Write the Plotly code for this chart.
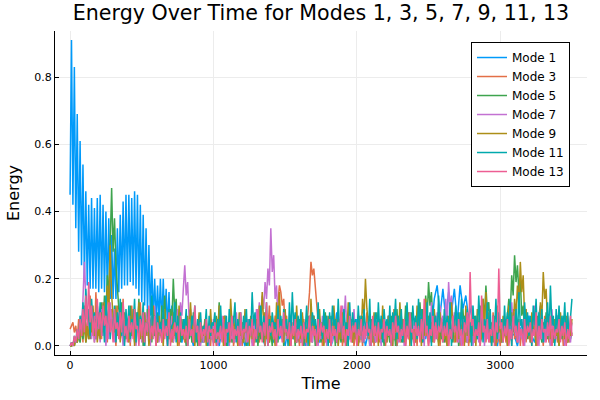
import plotly.graph_objects as go

# Mode 1: step 10 for t = 0..740, then step 20 for t = 760..3500 (energy in hundredths)
mode1_t_fine = list(range(0, 741, 10))
mode1_fine = [45, 91, 42, 83, 35, 69, 28, 61, 24, 54,
              20, 46, 18, 42, 17, 44, 17, 41, 17, 44,
              16, 45, 17, 42, 16, 40, 15, 38, 14, 33,
              14, 29, 14, 35, 16, 39, 17, 43, 18, 45,
              18, 45, 19, 44, 18, 46, 17, 45, 15, 42,
              13, 39, 12, 35, 10, 30, 9, 24, 8, 20,
              7, 18, 7, 20, 6, 20, 5, 17, 5, 16,
              4, 12, 3, 13, 2]
mode1_t_coarse = list(range(760, 3501, 20))
mode1_coarse = [5, 1, 8, 2, 4, 0, 6, 3, 1, 5,
                2, 7, 1, 3, 0, 5, 9, 2, 4, 1,
                6, 2, 3, 0, 4, 8, 1, 5, 2, 3,
                0, 7, 3, 1, 6, 2, 4, 0, 5, 8,
                2, 3, 1, 6, 0, 4, 2, 9, 3, 1,
                5, 2, 7, 0, 3, 10, 2, 4, 1, 6,
                3, 1, 8, 2, 5, 0, 4, 7, 1, 3,
                6, 2, 4, 9, 1, 3, 0, 5, 8, 2,
                4, 7, 1, 6, 3, 10, 2, 8, 4, 14,
                18, 9, 17, 8, 16, 10, 17, 7, 18, 11,
                15, 8, 12, 4, 6, 1, 4, 7, 2, 5,
                3, 0, 6, 2, 8, 1, 4, 3, 0, 5,
                7, 2, 9, 3, 1, 6, 12, 4, 8, 2,
                5, 1, 9, 3, 6, 2, 4, 3]

# Other modes: step 10, t = 0..3500 (energy in hundredths), one row per 200 time units
time_fine = list(range(0, 3501, 10))
mode3 = [5, 6, 7, 4, 6, 2, 8, 3, 9, 1, 12, 4, 7, 2, 15, 5, 9, 1, 16, 6,
         3, 10, 2, 13, 5, 8, 1, 16, 4, 11, 2, 7, 0, 12, 5, 9, 3, 14, 1, 6,
         4, 9, 0, 12, 3, 7, 1, 10, 5, 13, 2, 6, 0, 9, 4, 11, 1, 7, 3, 5,
         0, 8, 2, 5, 1, 10, 3, 6, 0, 7, 4, 9, 1, 5, 2, 8, 0, 6, 3, 4,
         1, 7, 0, 5, 3, 9, 1, 4, 2, 6, 0, 8, 2, 3, 1, 7, 4, 5, 0, 6,
         2, 4, 0, 7, 1, 5, 3, 9, 0, 4, 2, 6, 1, 8, 0, 3, 4, 7, 1, 5,
         0, 6, 2, 4, 1, 8, 3, 5, 0, 7, 2, 10, 1, 4, 3, 6, 0, 9, 5, 12,
         2, 8, 4, 9, 6, 13, 18, 16, 12, 14, 5, 9, 2, 6, 0, 7, 3, 5, 1, 4,
         0, 6, 3, 8, 1, 5, 10, 16, 25, 21, 23, 18, 12, 6, 2, 7, 0, 5, 3, 8,
         1, 4, 0, 7, 3, 5, 1, 9, 2, 6, 0, 4, 3, 8, 1, 5, 2, 7, 0, 3,
         4, 8, 1, 5, 0, 6, 3, 10, 2, 4, 1, 7, 0, 5, 3, 9, 1, 4, 2, 6,
         0, 5, 3, 8, 1, 4, 2, 7, 0, 6, 4, 9, 1, 3, 0, 5, 2, 8, 1, 4,
         3, 6, 0, 9, 2, 5, 1, 7, 3, 4, 0, 8, 2, 6, 1, 5, 3, 10, 0, 4,
         2, 7, 1, 5, 0, 8, 3, 6, 1, 4, 2, 9, 0, 5, 3, 7, 1, 4, 0, 6,
         3, 9, 1, 5, 2, 7, 0, 4, 3, 8, 1, 6, 2, 5, 0, 10, 3, 6, 1, 4,
         0, 7, 2, 5, 1, 9, 3, 6, 0, 11, 2, 4, 1, 8, 0, 5, 3, 7, 1, 6,
         2, 5, 0, 8, 3, 4, 1, 7, 2, 6, 0, 9, 3, 5, 1, 6, 0, 8, 2, 4,
         1, 6, 3, 5, 0, 7, 2, 9, 1, 4, 3]
mode5 = [0, 0, 1, 0, 2, 1, 3, 1, 5, 2, 7, 1, 4, 9, 2, 6, 11, 3, 8, 2,
         10, 4, 13, 6, 15, 9, 21, 14, 33, 47, 28, 38, 24, 18, 11, 9, 13, 5, 10, 3,
         7, 2, 12, 4, 8, 1, 10, 5, 14, 3, 7, 0, 9, 4, 11, 2, 6, 1, 8, 3,
         5, 1, 9, 3, 12, 6, 15, 4, 8, 2, 11, 7, 20, 10, 14, 3, 6, 1, 7, 2,
         4, 0, 8, 2, 5, 1, 10, 3, 6, 0, 9, 2, 4, 1, 7, 3, 5, 0, 8, 2,
         6, 1, 9, 3, 13, 5, 8, 1, 4, 0, 7, 2, 5, 1, 9, 3, 6, 0, 4, 2,
         7, 1, 5, 0, 8, 3, 4, 1, 9, 2, 6, 0, 5, 2, 7, 1, 10, 3, 6, 1,
         4, 0, 7, 2, 5, 1, 9, 3, 6, 0, 8, 2, 4, 1, 7, 3, 5, 0, 6, 2,
         8, 1, 4, 0, 6, 2, 9, 3, 5, 1, 7, 0, 4, 2, 8, 1, 5, 3, 10, 2,
         5, 1, 9, 3, 6, 0, 8, 2, 4, 1, 11, 3, 6, 0, 7, 2, 5, 1, 8, 3,
         4, 0, 7, 2, 9, 1, 5, 3, 6, 0, 8, 2, 4, 1, 10, 3, 6, 1, 5, 0,
         7, 2, 4, 1, 9, 3, 6, 0, 11, 2, 5, 1, 8, 3, 12, 4, 7, 1, 10, 3,
         6, 2, 9, 4, 13, 6, 11, 5, 15, 8, 19, 12, 16, 7, 10, 3, 6, 1, 5, 2,
         7, 1, 4, 0, 8, 2, 5, 1, 9, 3, 6, 0, 7, 2, 11, 3, 5, 1, 8, 2,
         4, 1, 9, 3, 6, 2, 12, 5, 14, 8, 18, 10, 13, 4, 7, 1, 5, 2, 8, 3,
         5, 1, 8, 3, 6, 9, 14, 10, 21, 15, 27, 19, 24, 16, 20, 9, 12, 4, 7, 2,
         6, 1, 9, 3, 5, 0, 8, 2, 4, 1, 7, 3, 10, 2, 6, 0, 5, 1, 8, 3,
         4, 0, 7, 2, 9, 3, 5, 1, 6, 2, 4]
mode7 = [0, 1, 0, 2, 1, 4, 2, 6, 3, 12, 25, 14, 8, 3, 10, 2, 7, 1, 9, 4,
         6, 1, 11, 3, 8, 0, 7, 2, 13, 5, 9, 1, 6, 3, 10, 2, 5, 0, 8, 4,
         2, 9, 1, 6, 3, 11, 0, 7, 4, 8, 1, 5, 2, 10, 3, 6, 0, 9, 2, 12,
         4, 8, 1, 6, 2, 10, 3, 5, 0, 7, 3, 9, 1, 6, 4, 11, 6, 13, 9, 17,
         24, 15, 19, 8, 11, 3, 6, 1, 5, 2, 8, 0, 4, 1, 7, 3, 5, 0, 6, 2,
         8, 1, 4, 0, 6, 2, 9, 3, 5, 1, 7, 0, 4, 2, 6, 1, 10, 3, 5, 0,
         7, 2, 4, 1, 8, 3, 6, 0, 9, 4, 11, 6, 13, 8, 15, 11, 19, 14, 23, 18,
         35, 22, 27, 14, 18, 7, 10, 3, 6, 1, 8, 2, 5, 0, 7, 3, 9, 1, 4, 2,
         6, 1, 9, 3, 5, 0, 7, 2, 4, 1, 8, 3, 6, 0, 5, 2, 9, 1, 4, 0,
         7, 2, 5, 1, 10, 3, 6, 0, 8, 4, 12, 7, 15, 5, 9, 2, 6, 1, 11, 3,
         5, 0, 8, 2, 4, 1, 7, 3, 9, 0, 6, 2, 5, 1, 8, 3, 4, 0, 7, 2,
         6, 1, 9, 3, 5, 0, 11, 4, 7, 1, 6, 2, 8, 0, 5, 3, 10, 1, 4, 2,
         7, 1, 5, 3, 9, 2, 6, 0, 11, 4, 8, 1, 13, 5, 7, 2, 10, 3, 12, 6,
         9, 3, 14, 6, 19, 11, 15, 5, 10, 2, 7, 1, 5, 0, 8, 3, 6, 1, 4, 2,
         8, 0, 5, 2, 7, 1, 4, 3, 9, 0, 6, 2, 10, 1, 5, 3, 7, 0, 4, 2,
         6, 1, 8, 3, 5, 0, 9, 2, 13, 6, 10, 3, 7, 1, 5, 2, 8, 0, 11, 4,
         6, 1, 9, 3, 12, 5, 7, 0, 10, 2, 6, 1, 8, 3, 5, 0, 11, 4, 7, 2,
         9, 1, 5, 3, 8, 0, 6, 2, 4, 1, 7]
mode9 = [0, 0, 1, 0, 2, 1, 4, 2, 7, 3, 10, 1, 6, 2, 9, 4, 12, 3, 8, 1,
         6, 2, 10, 4, 13, 7, 18, 11, 30, 15, 9, 4, 12, 3, 7, 1, 10, 5, 8, 2,
         5, 1, 9, 3, 11, 0, 7, 4, 13, 2, 6, 1, 10, 3, 8, 0, 5, 2, 12, 4,
         7, 1, 9, 3, 5, 0, 11, 4, 8, 2, 6, 1, 10, 3, 7, 0, 12, 5, 8, 2,
         6, 1, 9, 3, 13, 4, 7, 0, 5, 2, 10, 1, 6, 3, 8, 0, 4, 2, 11, 3,
         5, 1, 8, 2, 12, 4, 6, 0, 9, 3, 5, 1, 14, 6, 8, 2, 4, 0, 10, 3,
         7, 1, 11, 4, 6, 0, 9, 2, 5, 1, 8, 3, 12, 5, 16, 7, 10, 2, 6, 1,
         9, 3, 5, 0, 13, 6, 16, 4, 8, 1, 11, 3, 6, 0, 9, 2, 5, 1, 12, 4,
         7, 2, 10, 3, 5, 1, 8, 0, 14, 5, 9, 2, 6, 1, 11, 3, 7, 0, 5, 2,
         9, 1, 6, 3, 12, 4, 8, 0, 5, 2, 10, 1, 7, 3, 13, 5, 8, 1, 6, 2,
         4, 0, 9, 3, 14, 8, 20, 11, 7, 2, 5, 1, 10, 3, 6, 0, 8, 2, 12, 4,
         6, 1, 9, 3, 5, 0, 11, 4, 7, 2, 13, 5, 8, 1, 6, 3, 10, 0, 7, 2,
         5, 1, 12, 4, 8, 0, 6, 3, 14, 5, 9, 2, 7, 1, 11, 4, 6, 0, 10, 3,
         7, 2, 5, 0, 9, 3, 13, 6, 8, 1, 6, 2, 10, 4, 7, 0, 12, 3, 5, 1,
         9, 3, 6, 0, 11, 4, 8, 2, 14, 5, 16, 7, 10, 1, 6, 3, 9, 0, 12, 4,
         6, 1, 9, 3, 5, 0, 12, 6, 10, 4, 14, 9, 18, 12, 25, 16, 21, 8, 11, 3,
         7, 1, 10, 4, 6, 0, 9, 3, 13, 8, 22, 14, 17, 6, 9, 2, 5, 1, 8, 3,
         6, 0, 10, 3, 7, 2, 9, 1, 5, 3, 8]
mode11 = [0, 1, 0, 3, 1, 5, 2, 9, 4, 13, 6, 17, 8, 11, 3, 14, 7, 10, 2, 12,
          5, 13, 3, 9, 1, 15, 6, 11, 2, 8, 4, 12, 1, 10, 5, 14, 3, 9, 0, 11,
          4, 12, 2, 8, 6, 14, 1, 10, 3, 9, 5, 13, 0, 7, 4, 11, 2, 15, 6, 9,
          1, 10, 4, 7, 2, 12, 5, 8, 0, 11, 3, 6, 7, 13, 1, 9, 4, 10, 2, 8,
          5, 11, 0, 7, 3, 9, 6, 12, 1, 8, 4, 10, 2, 6, 5, 11, 0, 9, 3, 7,
          6, 10, 1, 8, 4, 12, 2, 7, 5, 9, 0, 11, 3, 6, 7, 13, 1, 8, 4, 10,
          2, 9, 5, 11, 0, 8, 3, 16, 6, 10, 1, 7, 4, 12, 2, 9, 5, 13, 0, 8,
          3, 10, 6, 7, 1, 12, 4, 9, 2, 11, 5, 8, 0, 13, 3, 16, 6, 10, 1, 9,
          4, 11, 2, 7, 5, 12, 0, 9, 3, 10, 6, 8, 1, 13, 4, 7, 2, 11, 5, 9,
          0, 10, 3, 12, 6, 8, 1, 14, 4, 9, 2, 11, 5, 7, 0, 13, 3, 10, 6, 8,
          2, 12, 4, 9, 1, 11, 5, 7, 3, 14, 0, 8, 6, 10, 2, 13, 4, 9, 1, 11,
          5, 8, 3, 12, 0, 10, 6, 14, 2, 9, 4, 11, 1, 7, 5, 13, 3, 10, 0, 12,
          6, 9, 2, 14, 4, 11, 1, 8, 5, 13, 3, 10, 0, 12, 6, 9, 2, 15, 4, 8,
          1, 11, 5, 9, 3, 13, 0, 8, 6, 12, 2, 10, 4, 14, 1, 9, 5, 11, 3, 7,
          0, 12, 4, 9, 2, 15, 6, 10, 1, 8, 5, 13, 3, 11, 0, 9, 4, 14, 2, 10,
          6, 8, 1, 12, 3, 10, 5, 14, 0, 9, 4, 11, 2, 16, 6, 8, 1, 13, 5, 10,
          3, 9, 0, 12, 6, 14, 2, 10, 4, 11, 1, 8, 5, 13, 3, 18, 6, 9, 0, 11,
          4, 12, 2, 9, 5, 13, 1, 10, 3, 8, 14]
mode13 = [0, 1, 0, 3, 1, 5, 2, 8, 3, 11, 4, 15, 6, 19, 7, 12, 3, 9, 2, 14,
          5, 10, 3, 12, 6, 9, 2, 13, 4, 8, 1, 11, 5, 7, 2, 10, 4, 13, 3, 6,
          1, 9, 4, 7, 2, 11, 5, 6, 0, 8, 3, 10, 1, 7, 4, 12, 2, 6, 3, 9,
          0, 7, 4, 5, 1, 8, 2, 6, 3, 10, 0, 5, 2, 7, 4, 6, 1, 9, 3, 5,
          2, 6, 0, 8, 3, 5, 1, 12, 4, 6, 0, 7, 2, 5, 3, 8, 1, 6, 4, 5,
          0, 7, 2, 4, 3, 6, 1, 8, 0, 5, 4, 7, 2, 9, 1, 5, 3, 6, 0, 10,
          2, 5, 4, 7, 1, 6, 3, 8, 0, 5, 2, 11, 4, 6, 1, 7, 3, 13, 0, 6,
          4, 7, 2, 5, 0, 8, 3, 6, 1, 10, 4, 5, 2, 7, 0, 6, 3, 8, 1, 5,
          3, 6, 0, 7, 2, 5, 4, 9, 1, 6, 3, 5, 0, 8, 2, 7, 4, 6, 1, 5,
          2, 8, 0, 6, 3, 5, 1, 7, 4, 12, 2, 6, 0, 5, 3, 9, 1, 6, 4, 7,
          0, 5, 3, 8, 1, 6, 2, 7, 4, 5, 0, 9, 3, 6, 1, 7, 2, 5, 4, 8,
          1, 6, 3, 5, 0, 7, 2, 9, 4, 6, 1, 5, 3, 8, 0, 6, 2, 10, 4, 5,
          0, 7, 3, 6, 1, 8, 2, 14, 4, 6, 0, 5, 3, 9, 1, 7, 2, 6, 4, 8,
          1, 6, 3, 7, 0, 5, 2, 9, 4, 6, 1, 8, 3, 5, 0, 7, 4, 10, 2, 22,
          6, 8, 1, 5, 3, 7, 0, 15, 4, 6, 2, 8, 1, 5, 3, 9, 0, 7, 4, 23,
          5, 7, 1, 6, 3, 8, 0, 5, 2, 9, 4, 6, 1, 7, 3, 5, 0, 8, 2, 6,
          4, 7, 1, 5, 3, 10, 0, 6, 2, 8, 4, 5, 1, 7, 3, 9, 0, 6, 2, 5,
          4, 8, 1, 6, 3, 7, 0, 5, 2, 9, 3]

mode_names = ["Mode 1", "Mode 3", "Mode 5", "Mode 7", "Mode 9", "Mode 11", "Mode 13"]
colors = ["#009AFA", "#E36F47", "#3EA44E", "#C371D2", "#AC8E18", "#00A9AD", "#ED5E93"]
x_ticks = [0, 1000, 2000, 3000]
y_ticks = [0.0, 0.2, 0.4, 0.6, 0.8]

series = [
    (mode1_t_fine + mode1_t_coarse, mode1_fine + mode1_coarse),
    (time_fine, mode3),
    (time_fine, mode5),
    (time_fine, mode7),
    (time_fine, mode9),
    (time_fine, mode11),
    (time_fine, mode13),
]

fig = go.Figure()
for (t, v), name, c in zip(series, mode_names, colors):
    fig.add_trace(go.Scatter(x=t, y=[e / 100 for e in v], mode="lines", name=name,
                             line=dict(color=c, width=1.5)))

font = "DejaVu Sans"
fig.update_layout(
    width=600, height=400,
    paper_bgcolor="white", plot_bgcolor="white",
    margin=dict(l=55, r=13, t=31, b=45),
    font=dict(family=font, color="black"),
    title=dict(text="Energy Over Time for Modes 1, 3, 5, 7, 9, 11, 13",
               xref="paper", x=0.5, xanchor="center",
               yref="container", y=0.969, yanchor="middle",
               font=dict(size=20.6, family=font)),
    showlegend=True,
    legend=dict(x=0.968, y=0.966, xanchor="right", yanchor="top",
                bgcolor="white", bordercolor="black", borderwidth=1,
                font=dict(size=12, family=font), tracegroupgap=0),
)
fig.update_xaxes(range=[-105, 3605], tickvals=x_ticks, ticktext=[str(v) for v in x_ticks],
                 automargin=False,
                 showline=True, linecolor="black", linewidth=1, mirror=False,
                 ticks="inside", ticklen=4, tickcolor="black",
                 showgrid=True, gridcolor="#ececec", gridwidth=1, zeroline=False,
                 tickfont=dict(size=11),
                 title=dict(text="Time", font=dict(size=16), standoff=6))
fig.update_yaxes(range=[-0.027, 0.937], tickvals=y_ticks, ticktext=[f"{v:.1f}" for v in y_ticks],
                 automargin=False,
                 showline=True, linecolor="black", linewidth=1, mirror=False,
                 ticks="inside", ticklen=4, tickcolor="black",
                 showgrid=True, gridcolor="#ececec", gridwidth=1, zeroline=False,
                 tickfont=dict(size=11),
                 title=dict(text="Energy", font=dict(size=16), standoff=10))

fig.write_html("out.html", config={"displayModeBar": False},
               post_script="document.body.style.margin='0';document.body.style.overflow='hidden';")
